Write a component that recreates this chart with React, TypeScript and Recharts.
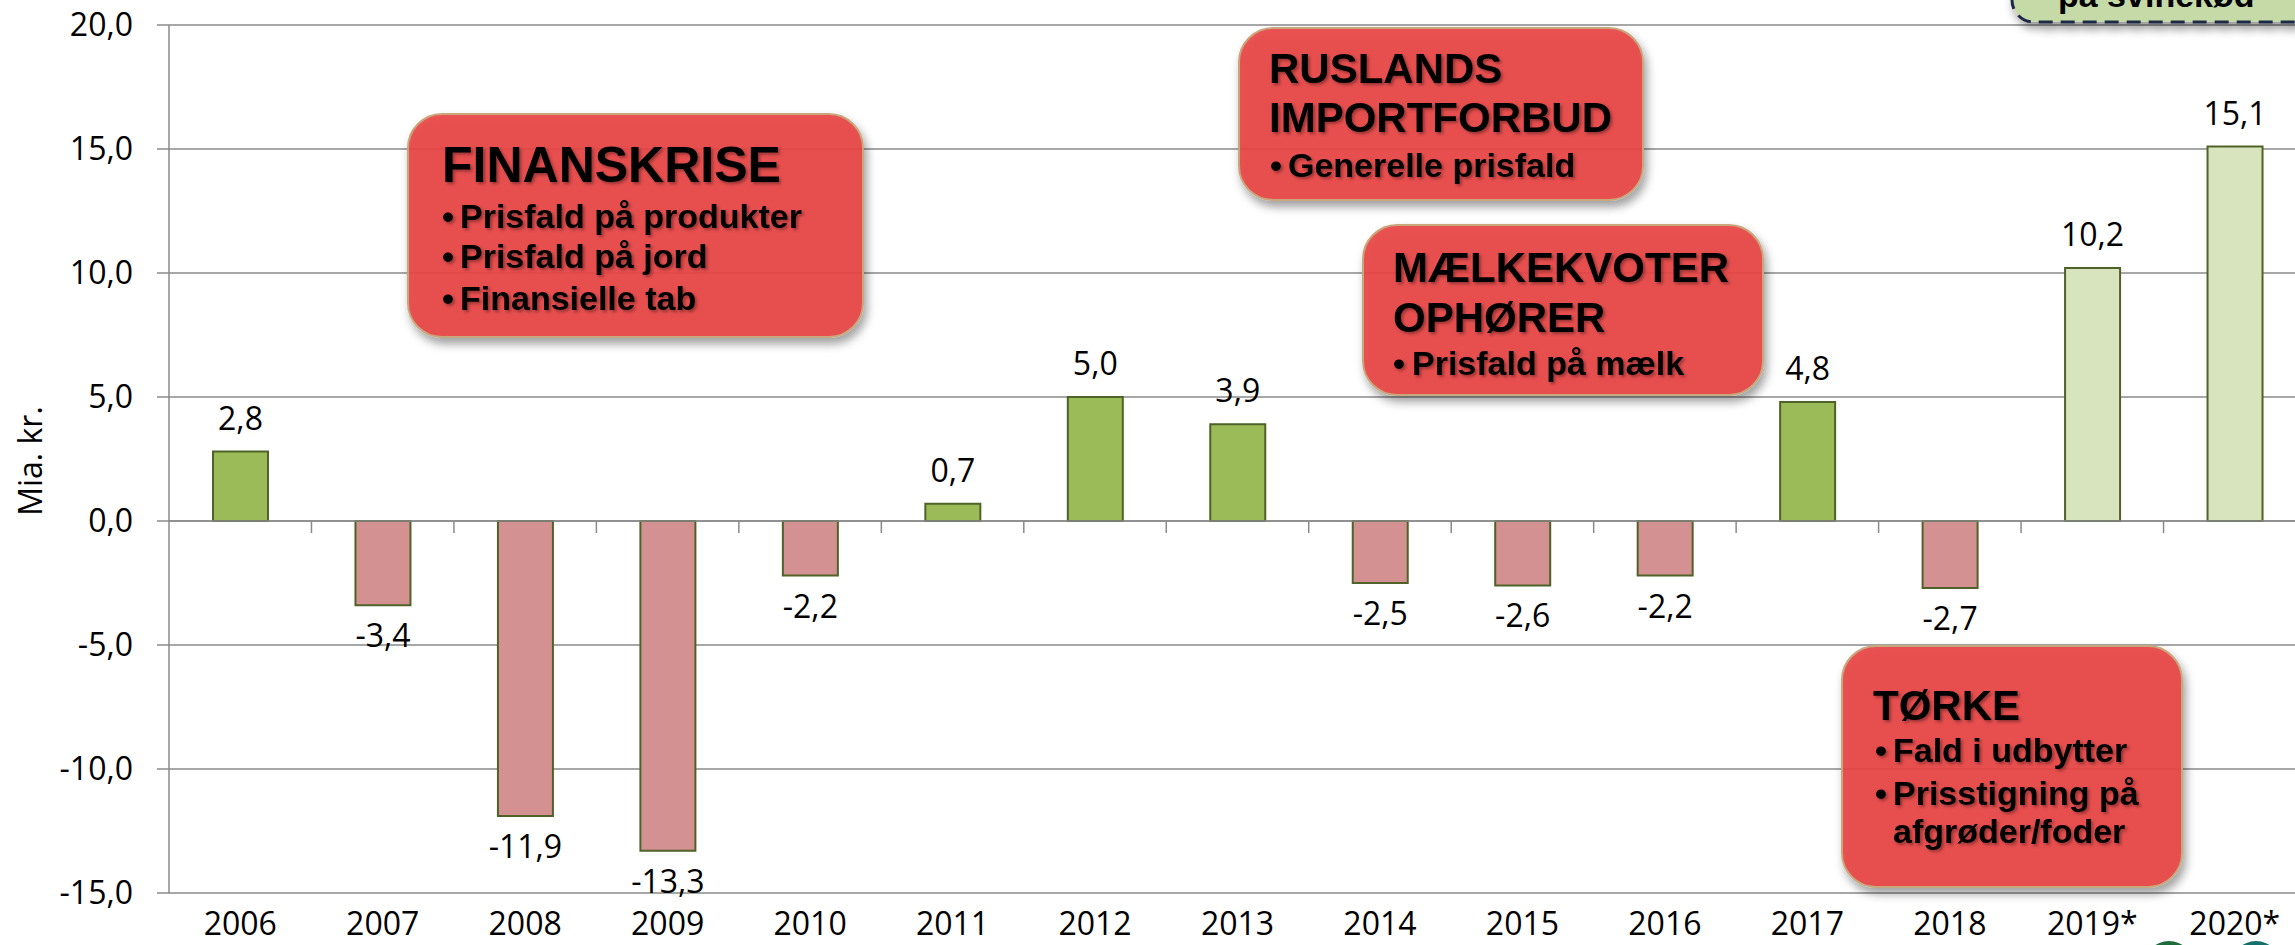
import { BarChart, Bar, XAxis, YAxis, CartesianGrid, ReferenceLine, LabelList, Cell, Label } from 'recharts';

// Driftsresultat pr. år (mia. kr.), 2019 og 2020 er prognoser (*)
const years = ['2006', '2007', '2008', '2009', '2010', '2011', '2012', '2013', '2014', '2015', '2016', '2017', '2018', '2019*', '2020*'];
const result = [2.8, -3.4, -11.9, -13.3, -2.2, 0.7, 5.0, 3.9, -2.5, -2.6, -2.2, 4.8, -2.7, 10.2, 15.1];
const forecast = [false, false, false, false, false, false, false, false, false, false, false, false, false, true, true];
const yTicks = [-15, -10, -5, 0, 5, 10, 15, 20];

const data = years.map((year, i) => ({ year, value: result[i], forecast: forecast[i] }));

const GRID = '#8a8a8a';
const FONT = "'Open Sans', 'Noto Sans', sans-serif";
const BOLD = "'Liberation Sans', Arial, sans-serif";

// dansk decimalkomma
const fmt = (v: number) => v.toFixed(1).replace('.', ',');

const barColor = (d: { value: number; forecast: boolean }) => {
  if (d.forecast) return '#D7E4BD';
  return d.value >= 0 ? '#9BBB59' : '#D39191';
};

const ValueLabel = (props: any) => {
  const vb = props.viewBox ?? props;
  const { x, y, width, height } = vb;
  if (x == null) return null;
  const top = Math.min(y, y + height);
  const bottom = Math.max(y, y + height);
  const v = Number(props.value);
  const ty = v >= 0 ? top - 22 : bottom + 42;
  return (
    <text x={x + width / 2} y={ty} textAnchor="middle" fontFamily={FONT} fontSize={32} fill="#000">
      {fmt(v)}
    </text>
  );
};

// nul-linjen med tick marks mellem kategorierne
const ZeroAxis = (props: any) => {
  const { x1, x2, y1 } = props;
  if (x1 == null) return null;
  const step = (x2 - x1) / years.length;
  return (
    <g>
      <line x1={x1} x2={x2} y1={y1} y2={y1} stroke={GRID} strokeWidth={1.5} />
      {years.map((_, i) => (
        <line key={i} x1={x1 + step * (i + 1)} x2={x1 + step * (i + 1)} y1={y1} y2={y1 + 12} stroke={GRID} strokeWidth={1.5} />
      ))}
    </g>
  );
};

const AxisTitle = () => {
  const cy = 461;
  return (
    <text x={29} y={cy} transform={`rotate(-90, 29, ${cy})`} textAnchor="middle" dominantBaseline="central" fontFamily={FONT} fontSize={32} fill="#000">
      Mia. kr.
    </text>
  );
};

function RedBox({ x, y, w, h, children }: { x: number; y: number; w: number; h: number; children: any }) {
  return (
    <g>
      <rect x={x} y={y} width={w} height={h} rx={34} fill="#E84545" fillOpacity={0.92} stroke="#C9A77C" strokeWidth={2} filter="url(#boxShadow)" />
      <g filter="url(#textShadow)" fontFamily={BOLD} fontWeight="bold" fill="#000">
        {children}
      </g>
    </g>
  );
}

function Bullet({ x, tx, y, size, text }: { x: number; tx: number; y: number; size: number; text: string }) {
  return (
    <>
      <text x={x} y={y} fontSize={size}>•</text>
      <text x={tx} y={y} fontSize={size}>{text}</text>
    </>
  );
}

function Annotations() {
  return (
    <svg width={2295} height={945} style={{ position: 'absolute', left: 0, top: 0, pointerEvents: 'none' }}>
      <defs>
        <filter id="boxShadow" x="-10%" y="-10%" width="130%" height="140%">
          <feDropShadow dx={3} dy={6} stdDeviation={5} floodColor="#000" floodOpacity={0.4} />
        </filter>
        <filter id="textShadow" x="-5%" y="-5%" width="115%" height="130%">
          <feDropShadow dx={2} dy={2} stdDeviation={1.5} floodColor="#000" floodOpacity={0.35} />
        </filter>
      </defs>

      {/* grøn boks øverst til højre, kun nederste del synlig */}
      <rect x={2012} y={-80} width={320} height={102} rx={22} fill="#C6DAA8" stroke="#1F2A44" strokeWidth={3} strokeDasharray="14 8" filter="url(#boxShadow)" />
      <text x={2058} y={7} fontFamily={BOLD} fontWeight="bold" fontSize={34} fill="#000">på svinekød</text>

      <RedBox x={408} y={114} w={455} h={223}>
        <text x={442} y={182} fontSize={50}>FINANSKRISE</text>
        <Bullet x={442} tx={460} y={228} size={34} text="Prisfald på produkter" />
        <Bullet x={442} tx={460} y={268} size={34} text="Prisfald på jord" />
        <Bullet x={442} tx={460} y={310} size={34} text="Finansielle tab" />
      </RedBox>

      <RedBox x={1239} y={28} w={404} h={172}>
        <text x={1269} y={83} fontSize={42}>RUSLANDS</text>
        <text x={1269} y={132} fontSize={42}>IMPORTFORBUD</text>
        <Bullet x={1270} tx={1288} y={177} size={34} text="Generelle prisfald" />
      </RedBox>

      <RedBox x={1363} y={225} w={400} h={170}>
        <text x={1393} y={282} fontSize={42}>MÆLKEKVOTER</text>
        <text x={1393} y={332} fontSize={42}>OPHØRER</text>
        <Bullet x={1393} tx={1412} y={375} size={34} text="Prisfald på mælk" />
      </RedBox>

      <RedBox x={1842} y={646} w={340} h={241}>
        <text x={1873} y={720} fontSize={42}>TØRKE</text>
        <Bullet x={1875} tx={1893} y={762} size={34} text="Fald i udbytter" />
        <Bullet x={1875} tx={1893} y={805} size={34} text="Prisstigning på" />
        <text x={1893} y={843} fontSize={34}>afgrøder/foder</text>
      </RedBox>
    </svg>
  );
}

export default function App() {
  return (
    <div style={{ position: 'fixed', left: 0, top: 0, width: 2295, height: 945, overflow: 'hidden', background: '#fff' }}>
      {/* logo-cirkler nederst til højre, delvist skjult */}
      <svg width={2295} height={945} style={{ position: 'absolute', left: 0, top: 0 }}>
        <circle cx={2169} cy={966} r={25} fill="#1E6B3C" />
        <circle cx={2256} cy={966} r={25} fill="#17706C" />
      </svg>
      <div style={{ position: 'absolute', left: 0, top: 0 }}>
        <BarChart width={2320} height={945} data={data} margin={{ top: 25, right: 14, bottom: 0, left: 0 }}>
          <CartesianGrid vertical={false} stroke={GRID} strokeWidth={1.5} />
          <XAxis
            dataKey="year"
            axisLine={false}
            tickLine={false}
            tickSize={0}
            tickMargin={19}
            interval={0}
            height={52}
            tick={{ fontSize: 32, fill: '#000', fontFamily: FONT }}
          />
          <YAxis
            type="number"
            domain={[-15, 20]}
            ticks={yTicks}
            interval={0}
            width={169}
            tickFormatter={fmt}
            axisLine={{ stroke: GRID, strokeWidth: 1.5 }}
            tickLine={{ stroke: GRID, strokeWidth: 1.5 }}
            tickSize={12}
            tickMargin={24}
            tick={{ fontSize: 32, fill: '#000', fontFamily: FONT }}
          >
            <Label content={<AxisTitle />} />
          </YAxis>
          <Bar dataKey="value" barSize={55} stroke="#4F6228" strokeWidth={2} isAnimationActive={false}>
            {data.map((d, i) => (
              <Cell key={`cell-${i}`} fill={barColor(d)} />
            ))}
            <LabelList dataKey="value" content={<ValueLabel />} />
          </Bar>
          <ReferenceLine y={0} shape={<ZeroAxis />} />
        </BarChart>
      </div>
      <Annotations />
    </div>
  );
}
